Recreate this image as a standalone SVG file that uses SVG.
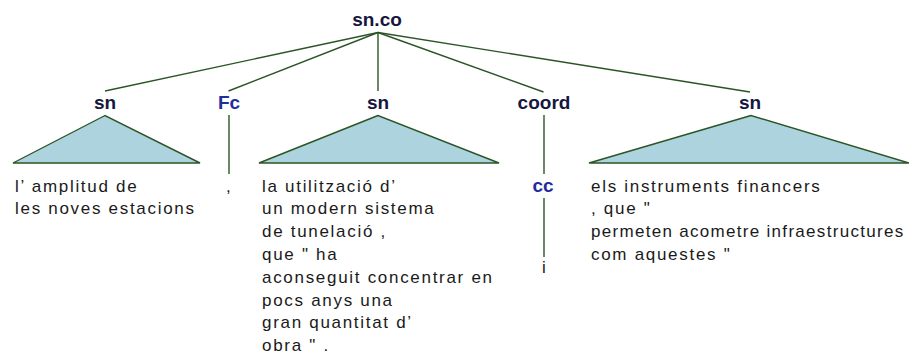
<svg xmlns="http://www.w3.org/2000/svg" width="909" height="356" viewBox="0 0 909 356">
<style>
.lbl{font-family:"Liberation Sans",Arial,sans-serif;font-weight:bold;font-size:19px;text-anchor:middle;fill:#16163f}
.blue{fill:#1f2e9e}
.txt{font-family:"Liberation Sans",Arial,sans-serif;font-size:17px;letter-spacing:1.7px;fill:#1a1a1a}
.edge{stroke:#2b5526;stroke-width:1.4;fill:none}
.tri{fill:#add3df;stroke:#2b5526;stroke-width:1.4;stroke-linejoin:miter}
</style>
<rect width="909" height="356" fill="#ffffff"/>
<g id="connectors">
<line class="edge" x1="378" y1="32.5" x2="105" y2="91"/>
<line class="edge" x1="378" y1="32.5" x2="228.5" y2="91"/>
<line class="edge" x1="378" y1="32.5" x2="378" y2="91"/>
<line class="edge" x1="378" y1="32.5" x2="543.5" y2="92"/>
<line class="edge" x1="378" y1="32.5" x2="750" y2="92"/>
<line class="edge" x1="229" y1="115" x2="229" y2="174"/>
<line class="edge" x1="544" y1="115" x2="544" y2="174"/>
<line class="edge" x1="544" y1="198" x2="544" y2="257"/>
</g>
<g id="root"><text class="lbl" x="377" y="26">sn.co</text></g>
<g id="sn1">
<text class="lbl" x="105" y="109">sn</text>
<polygon class="tri" points="105,115.5 13,163 200,163"/>
<text class="txt" x="15" y="191.5">l’ amplitud de</text>
<text class="txt" x="15" y="214.3">les noves estacions</text>
</g>
<g id="fc">
<text class="lbl blue" x="229" y="109">Fc</text>
<text class="txt" x="226" y="191.5">,</text>
</g>
<g id="sn2">
<text class="lbl" x="378" y="109">sn</text>
<polygon class="tri" points="378,115.5 259,163 499,163"/>
<text class="txt" x="262" y="191.5">la utilització d’</text>
<text class="txt" x="262" y="214.3">un modern sistema</text>
<text class="txt" x="262" y="237.1">de tunelació ,</text>
<text class="txt" x="262" y="259.9">que " ha</text>
<text class="txt" x="262" y="282.7">aconseguit concentrar en</text>
<text class="txt" x="262" y="305.5">pocs anys una</text>
<text class="txt" x="262" y="328.3">gran quantitat d’</text>
<text class="txt" x="262" y="351.1">obra " .</text>
</g>
<g id="coord">
<text class="lbl" x="544" y="109">coord</text>
<text class="lbl blue" x="543" y="192">cc</text>
<text class="txt" x="542" y="273">i</text>
</g>
<g id="sn3">
<text class="lbl" x="750" y="109">sn</text>
<polygon class="tri" points="751,115.5 589,163 909,163"/>
<text class="txt" x="591" y="191.5">els instruments financers</text>
<text class="txt" x="591" y="214.3">, que "</text>
<text class="txt" x="591" y="237.1" style="letter-spacing:1.3px">permeten acometre infraestructures</text>
<text class="txt" x="591" y="259.9">com aquestes "</text>
</g>
</svg>
